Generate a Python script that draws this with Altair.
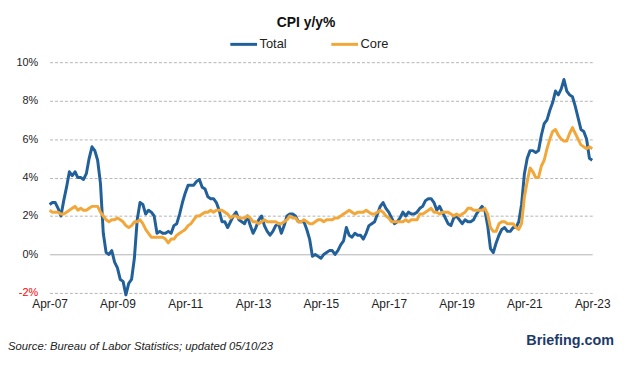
import altair as alt
import pandas as pd

# Monthly CPI y/y %, Apr-2007 .. Apr-2023
total = [
    2.6, 2.7, 2.7, 2.4, 2.0, 2.8, 3.5, 4.3, 4.1,
    4.3, 4.0, 4.0, 3.9, 4.2, 5.0, 5.6, 5.4, 4.9, 3.7, 1.1, 0.1,
    0.0, 0.2, -0.4, -0.7, -1.3, -1.4, -2.1, -1.5, -1.3, -0.2, 1.8, 2.7,
    2.6, 2.1, 2.3, 2.2, 2.0, 1.1, 1.2, 1.1, 1.1, 1.2, 1.1, 1.5,
    1.6, 2.1, 2.7, 3.2, 3.6, 3.6, 3.6, 3.8, 3.9, 3.5, 3.4, 3.0,
    2.9, 2.9, 2.7, 2.3, 1.7, 1.7, 1.4, 1.7, 2.0, 2.2, 1.8, 1.7,
    1.6, 2.0, 1.5, 1.1, 1.4, 1.8, 2.0, 1.5, 1.2, 1.0, 1.2, 1.5,
    1.6, 1.1, 1.5, 2.0, 2.1, 2.1, 2.0, 1.7, 1.7, 1.7, 1.3, 0.8,
    -0.1, 0.0, -0.1, -0.2, 0.0, 0.1, 0.2, 0.2, 0.0, 0.2, 0.5, 0.7,
    1.4, 1.0, 0.9, 1.1, 1.0, 1.0, 0.8, 1.1, 1.5, 1.6, 1.7, 2.1,
    2.5, 2.7, 2.4, 2.2, 1.9, 1.6, 1.7, 1.9, 2.2, 2.0, 2.2, 2.1,
    2.1, 2.2, 2.4, 2.5, 2.8, 2.9, 2.9, 2.7, 2.3, 2.5, 2.2, 1.9,
    1.6, 1.5, 1.9, 2.0, 1.8, 1.6, 1.8, 1.7, 1.7, 1.8, 2.1, 2.3,
    2.5, 2.3, 1.5, 0.3, 0.1, 0.6, 1.0, 1.3, 1.4, 1.2, 1.2, 1.4,
    1.4, 1.7, 2.6, 4.2, 5.0, 5.4, 5.4, 5.3, 5.4, 6.2, 6.8, 7.0,
    7.5, 7.9, 8.5, 8.3, 8.6, 9.1, 8.5, 8.3, 8.2, 7.7, 7.1, 6.5,
    6.4, 6.0, 5.0, 4.9,
]
core = [
    2.3, 2.2, 2.2, 2.2, 2.1, 2.1, 2.2, 2.3, 2.4,
    2.5, 2.3, 2.4, 2.3, 2.3, 2.4, 2.5, 2.5, 2.5, 2.2, 2.0, 1.8,
    1.7, 1.8, 1.8, 1.9, 1.8, 1.7, 1.5, 1.4, 1.5, 1.7, 1.7, 1.8,
    1.6, 1.3, 1.1, 0.9, 0.9, 0.9, 0.9, 0.9, 0.8, 0.6, 0.8, 0.8,
    1.0, 1.1, 1.2, 1.3, 1.5, 1.6, 1.8, 2.0, 2.0, 2.1, 2.2, 2.2,
    2.3, 2.2, 2.3, 2.3, 2.3, 2.2, 2.1, 1.9, 2.0, 2.0, 1.9, 1.9,
    1.9, 2.0, 1.9, 1.7, 1.7, 1.6, 1.7, 1.8, 1.7, 1.7, 1.7, 1.7,
    1.6, 1.6, 1.7, 1.8, 2.0, 1.9, 1.9, 1.7, 1.7, 1.8, 1.7, 1.6,
    1.6, 1.7, 1.8, 1.8, 1.7, 1.8, 1.8, 1.8, 1.9, 1.9, 2.0, 2.1,
    2.2, 2.3, 2.2, 2.1, 2.2, 2.2, 2.2, 2.3, 2.2, 2.1, 2.1, 2.2,
    2.3, 2.2, 2.0, 1.9, 1.7, 1.7, 1.7, 1.7, 1.7, 1.8, 1.7, 1.8,
    1.8, 1.8, 2.1, 2.1, 2.2, 2.3, 2.4, 2.2, 2.2, 2.1, 2.2, 2.2,
    2.2, 2.1, 2.0, 2.1, 2.0, 2.1, 2.2, 2.4, 2.4, 2.3, 2.3, 2.3,
    2.3, 2.4, 2.1, 1.4, 1.2, 1.2, 1.6, 1.7, 1.7, 1.6, 1.6, 1.6,
    1.4, 1.3, 1.6, 3.0, 3.8, 4.5, 4.3, 4.0, 4.0, 4.6, 4.9, 5.5,
    6.0, 6.4, 6.5, 6.2, 6.0, 5.9, 5.9, 6.3, 6.6, 6.3, 6.0, 5.7,
    5.6, 5.5, 5.6, 5.5,
]
tick_labels = ["Apr-07", "Apr-09", "Apr-11", "Apr-13", "Apr-15",
               "Apr-17", "Apr-19", "Apr-21", "Apr-23"]
series = ["Total", "Core"]
colors = ["#22609a", "#f2a73a"]

rows = []
for i, v in enumerate(total):
    rows.append({"m": i, "value": v, "series": "Total"})
for i, v in enumerate(core):
    rows.append({"m": i, "value": v, "series": "Core"})
df = pd.DataFrame(rows)

W, H = 548, 233
FONT = "Liberation Sans"

label_arr = "[" + ",".join("'%s'" % t for t in tick_labels) + "]"

x = alt.X(
    "m:Q",
    scale=alt.Scale(domain=[0, 192], nice=False, zero=False),
    axis=alt.Axis(
        values=list(range(0, 193, 24)),
        labelExpr=label_arr + "[round(datum.value/24)]",
        title=None, domain=False, ticks=False, grid=False,
        labelFont=FONT, labelFontSize=12, labelColor="#222222",
        labelPadding=6, labelFlush=False, labelOverlap=False,
    ),
)
y = alt.Y(
    "value:Q",
    scale=alt.Scale(domain=[-2, 10], nice=False, zero=False),
    axis=alt.Axis(
        values=[-2, 0, 2, 4, 6, 8, 10],
        labelExpr="datum.value + '%'",
        title=None, domain=False, ticks=False,
        grid=True, gridColor="#b4b4b4", gridWidth=1,
        gridDash=alt.condition("datum.value == 0", alt.value([]), alt.value([3, 2])),
        labelColor=alt.condition("datum.value < 0", alt.value("#ff0000"), alt.value("#222222")),
        labelFont=FONT, labelFontSize=11, labelPadding=12,
    ),
)

lines = alt.Chart(df).mark_line(strokeWidth=3, strokeJoin="round").encode(
    x=x,
    y=y,
    color=alt.Color(
        "series:N",
        scale=alt.Scale(domain=series, range=colors),
        legend=alt.Legend(
            title=None, orient="none", legendX=181, legendY=-33,
            direction="horizontal", symbolType="stroke",
            symbolStrokeWidth=3, symbolSize=729, labelOffset=1,
            columnPadding=38, labelFont=FONT, labelFontSize=13,
            labelColor="#222222",
        ),
    ),
    order=alt.Order("sorder:Q"),
).transform_calculate(sorder="datum.series == 'Total' ? 0 : 1")

one = pd.DataFrame({"a": [0]})
title = alt.Chart(one).mark_text(
    text="CPI y/y%", font=FONT, fontSize=14, fontWeight="bold",
    color="#111111", align="center", baseline="middle",
).encode(x=alt.value(259), y=alt.value(-40))
source = alt.Chart(one).mark_text(
    text="Source: Bureau of Labor Statistics; updated 05/10/23", font=FONT,
    fontSize=11.4, fontStyle="italic", color="#222222", align="left",
    baseline="middle",
).encode(x=alt.value(-42), y=alt.value(288))
brand = alt.Chart(one).mark_text(
    text="Briefing.com", font=FONT, fontSize=14.5, fontWeight="bold",
    color="#1c3a6a", align="right", baseline="middle",
).encode(x=alt.value(570), y=alt.value(282))

chart = alt.layer(lines, title, source, brand).properties(
    width=W, height=H, background="white",
    autosize=alt.AutoSizeParams(type="none"),
    padding={"left": 42, "top": 53, "right": 24, "bottom": 62},
).configure_view(strokeWidth=0)

chart.save("out.html", embed_options={"renderer": "svg", "actions": False})
